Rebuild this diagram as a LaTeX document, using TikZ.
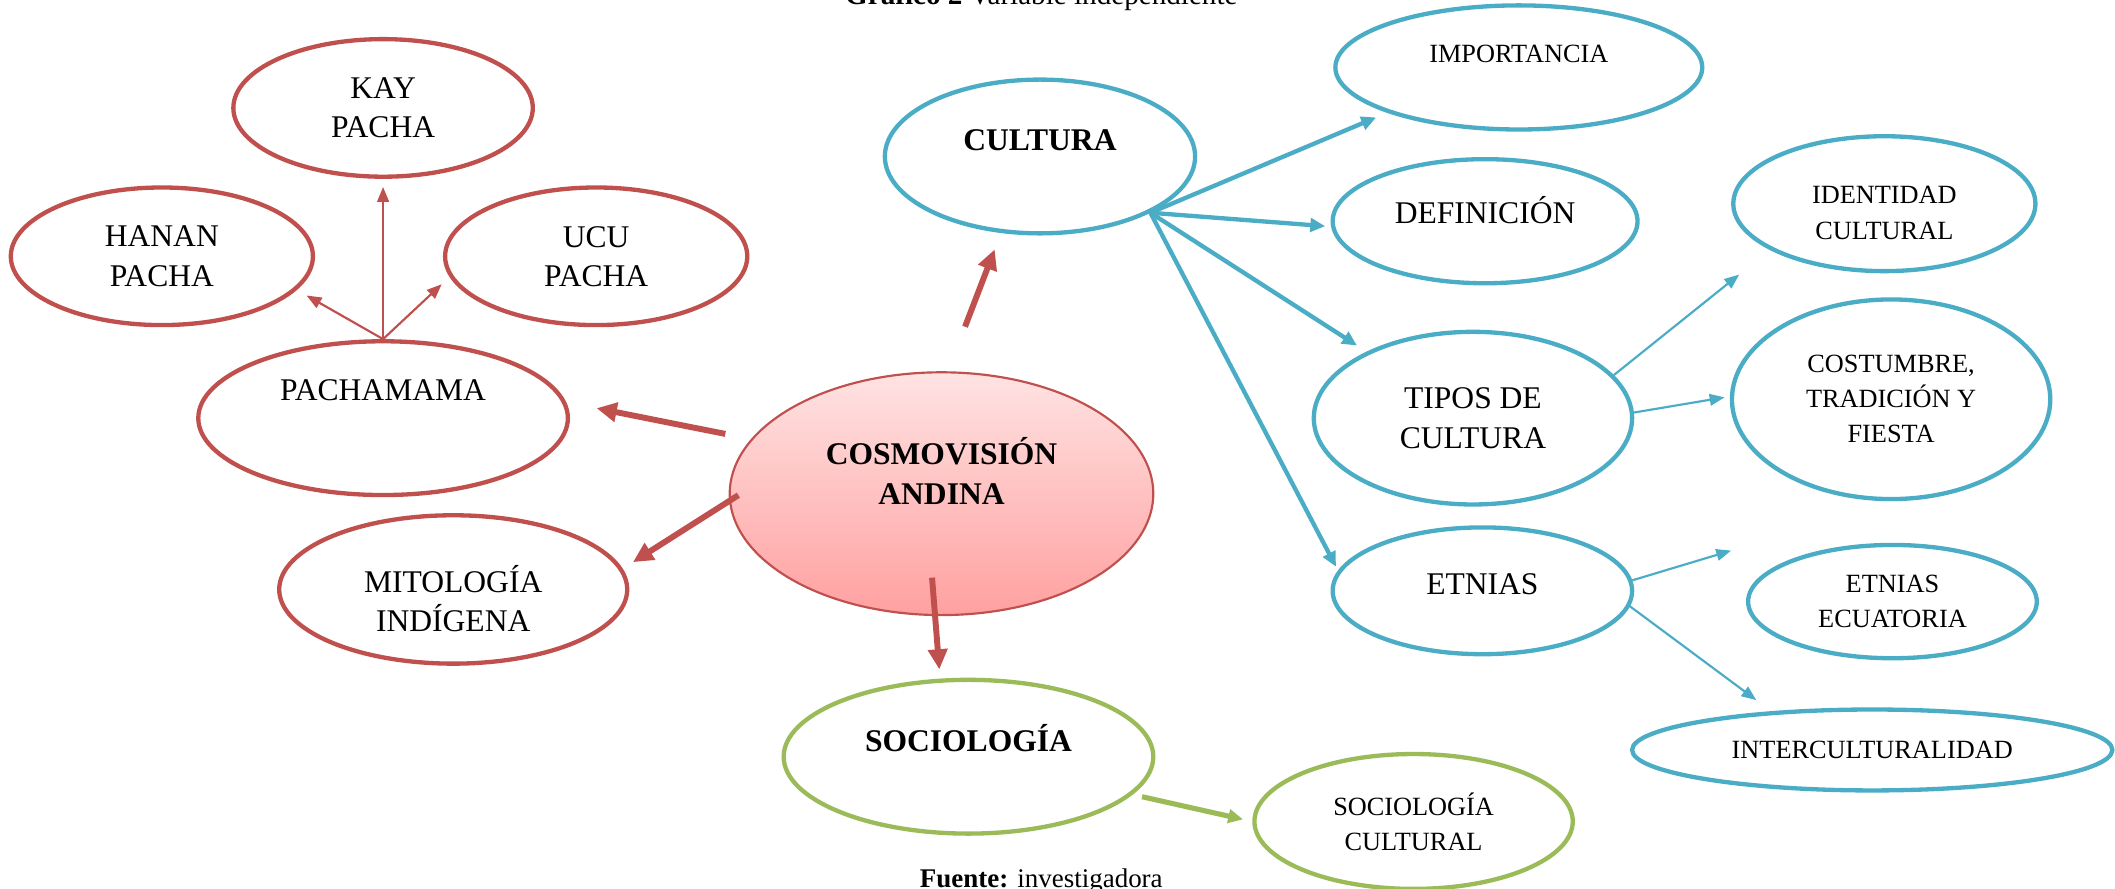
\documentclass[tikz,border=0pt]{standalone}
\usepackage{fontspec}
\setmainfont{Liberation Serif}
\usetikzlibrary{arrows.meta, shapes.geometric}
\definecolor{andred}{HTML}{C0504D}
\definecolor{andblue}{HTML}{4BACC6}
\definecolor{andgreen}{HTML}{9BBB59}
\definecolor{cosmotop}{HTML}{FFE3E3}
\definecolor{cosmobot}{HTML}{FFA0A0}
\newcommand{\bigfont}{\fontsize{11.7}{14.5}\selectfont}
\newcommand{\smallfont}{\fontsize{9.75}{13}\selectfont}
% moves the text of an oval up (or down) without changing the oval
\newcommand{\lift}[2]{\raisebox{#1}[\height][\depth]{\begin{tabular}{@{}c@{}}#2\end{tabular}}}
\tikzset{
  oval/.style={ellipse, draw=#1, line width=1.6pt, inner sep=0pt, align=center,
               font=\bigfont},
  oval/.default=andred,
  dims/.style 2 args={minimum width=#1pt, minimum height=#2pt},
  fatarr/.style={-{Triangle[length=7.5pt, width=7pt]}, line width=2.2pt, draw=#1},
  medarr/.style={-{Triangle[length=5.5pt, width=5pt]}, line width=1.6pt, draw=#1},
  slimarr/.style={-{Triangle[length=5.5pt, width=4.3pt]}, line width=0.8pt, draw=#1},
}

\begin{document}
\begin{tikzpicture}[x=0.5pt, y=-0.5pt]
  \useasboundingbox (0,0) rectangle (1568,659);

  % titulo y fuente
  \node[font=\fontsize{10.8}{13}\selectfont, anchor=base] (titulo) at (772,3.7)
    {\textbf{Gráfico 2} Variable independiente};
  \node[font=\fontsize{10}{12}\selectfont, anchor=base] (fuente) at (772,658)
    {\textbf{Fuente:} investigadora};

  % centro
  \node[oval, dims={157}{90}, line width=0.8pt, top color=cosmotop, bottom color=cosmobot,
        font=\fontsize{11.7}{15}\selectfont\bfseries] (cosmo) at (698,366)
    {\lift{6.5pt}{COSMOVISIÓN\\ANDINA}};

  % pachamama
  \node[oval, dims={111}{51}] (kay) at (284,80) {KAY\\PACHA};
  \node[oval, dims={112}{51}] (hanan) at (120,190) {HANAN\\PACHA};
  \node[oval, dims={112}{51}] (ucu) at (442,190) {UCU\\PACHA};
  \node[oval, dims={137}{57}] (pacha) at (284,310) {\lift{9.5pt}{PACHAMAMA}};
  \node[oval, dims={129}{55}] (mito) at (336,437) {\lift{-5.5pt}{MITOLOGÍA\\INDÍGENA}};

  % cultura
  \node[oval=andblue, dims={115}{57}, font=\bigfont\bfseries] (cultura) at (771,116)
    {\lift{5pt}{CULTURA}};
  \node[oval=andblue, dims={136}{46}, font=\smallfont] (importancia) at (1126,50)
    {\lift{4.5pt}{IMPORTANCIA}};
  \node[oval=andblue, dims={113}{46}] (definicion) at (1101,164) {\lift{2pt}{DEFINICIÓN}};
  \node[oval=andblue, dims={118}{64}] (tipos) at (1092,310) {TIPOS DE\\CULTURA};
  \node[oval=andblue, dims={111}{47}] (etnias) at (1099,438) {\lift{1.5pt}{ETNIAS}};
  \node[oval=andblue, dims={112}{50}, font=\smallfont] (identidad) at (1397,151)
    {\lift{-4pt}{IDENTIDAD\\CULTURAL}};
  \node[oval=andblue, dims={118}{74}, font=\smallfont] (costumbre) at (1402,296)
    {COSTUMBRE,\\TRADICIÓN Y\\FIESTA};
  \node[oval=andblue, dims={107}{42}, font=\smallfont] (etnecu) at (1403,446)
    {ETNIAS\\ECUATORIA};
  \node[oval=andblue, dims={178}{30}, font=\smallfont] (inter) at (1388,556)
    {INTERCULTURALIDAD};

  % sociologia
  \node[oval=andgreen, dims={137}{57}, font=\bigfont\bfseries] (socio) at (718,561)
    {\lift{5pt}{SOCIOLOGÍA}};
  \node[oval=andgreen, dims={118}{50}, font=\smallfont] (soccult) at (1048,609)
    {SOCIOLOGÍA\\CULTURAL};

  % flechas del centro
  \draw[fatarr=andred, shorten <=17.7pt, shorten >=6.5pt] (cosmo.87) -- (cultura.-117);
  \draw[fatarr=andred, shorten <=9.7pt, shorten >=11.5pt] (cosmo.164) -- (pacha.5);
  \draw[fatarr=andred, shorten <=-4.1pt, shorten >=4.5pt] (cosmo.182) -- (mito.7);
  \draw[fatarr=andred, shorten <=-14.3pt, shorten >=3.4pt] (cosmo.-93) -- (socio.110);

  % los tres pachas
  \draw[slimarr=andred, shorten >=3pt] (pacha.north) -- (kay.south);
  \draw[slimarr=andred, shorten >=4.2pt] (pacha.north) -- (hanan.-14);
  \draw[slimarr=andred, shorten >=4pt] (pacha.north) -- (ucu.188);

  % ramas de cultura
  \foreach \t/\a/\s in {importancia/-161/4.5, definicion/182/2.2, tipos/148/4.2, etnias/172/1.6}
    \draw[medarr=andblue, shorten >=\s pt] (cultura.-27) -- (\t.\a);

  \draw[slimarr=andblue, shorten >=14.6pt] (tipos.17) -- (identidad.202);
  \draw[slimarr=andblue, shorten >=2pt] (tipos.2) -- (costumbre.179);
  \draw[slimarr=andblue] (etnias.4) -- ([xshift=-5.5pt, yshift=18.9pt]etnecu.west);
  \draw[slimarr=andblue, shorten >=6.9pt] (etnias.-6) -- (inter.159);

  \draw[medarr=andgreen, line width=1.9pt, shorten <=3.6pt, shorten >=3.5pt]
    (socio.-13) -- (soccult.west);
\end{tikzpicture}
\end{document}
